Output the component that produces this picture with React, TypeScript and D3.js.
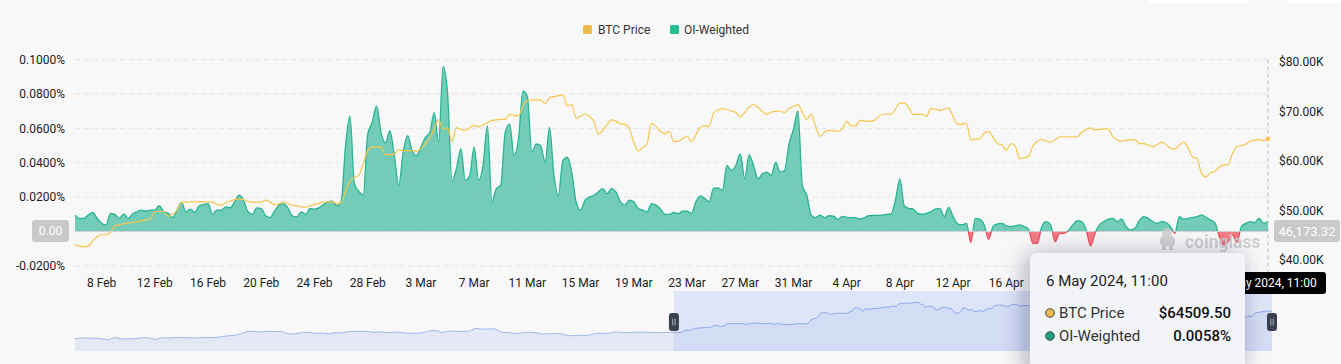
import * as d3 from 'd3';

// OI-weighted funding rate vs BTC price, 8h samples, 6 Feb 19:00 -> 6 May 11:00 2024

const W = 1341;
const H = 364;
const M = { left: 75, right: 1268, top: 59.5, bottom: 266 };
const SLIDER = { left: 75, right: 1272, top: 291, bottom: 351 };

// 0 % tick label sits under the axis-pointer badge, so it is not listed
const LEFT_TICKS = [0.1, 0.08, 0.06, 0.04, 0.02, -0.02];
const GRID_TICKS = [0.1, 0.08, 0.06, 0.04, 0.02, 0, -0.02];
const RIGHT_TICKS = [80000, 70000, 60000, 50000, 40000];
// labels after 16 Apr are hidden behind the tooltip
const X_TICKS = [
  '8 Feb', '12 Feb', '16 Feb', '20 Feb', '24 Feb', '28 Feb', '3 Mar', '7 Mar', '11 Mar', '15 Mar', '19 Mar',
  '23 Mar', '27 Mar', '31 Mar', '4 Apr', '8 Apr', '12 Apr', '16 Apr',
];
const FIRST_TICK = 6;   // sample index of "8 Feb"
const TICK_STEP = 12;   // 4 days of 8h samples

const START = new Date(2024, 1, 6, 19);
const SLIDER_START = new Date(2023, 10, 9);

// funding rate, %
const OI_WEIGHTED = [
  0.0096, 0.0077, 0.0077, 0.0096, 0.0111, 0.0077, 0.0048, 0.0038, 0.0106, 0.0100,
  0.0077, 0.0102, 0.0077, 0.0102, 0.0115, 0.0125, 0.0119, 0.0125, 0.0125, 0.0150,
  0.0115, 0.0106, 0.0081, 0.0125, 0.0169, 0.0115, 0.0131, 0.0111, 0.0150, 0.0157,
  0.0163, 0.0100, 0.0125, 0.0125, 0.0144, 0.0138, 0.0173, 0.0211, 0.0182, 0.0115,
  0.0100, 0.0138, 0.0134, 0.0092, 0.0081, 0.0119, 0.0154, 0.0161, 0.0138, 0.0092,
  0.0086, 0.0115, 0.0100, 0.0134, 0.0131, 0.0138, 0.0157, 0.0173, 0.0177, 0.0150,
  0.0173, 0.0499, 0.0672, 0.0278, 0.0234, 0.0211, 0.0566, 0.0634, 0.0730, 0.0576,
  0.0515, 0.0586, 0.0442, 0.0269, 0.0461, 0.0557, 0.0470, 0.0442, 0.0490, 0.0547,
  0.0576, 0.0691, 0.0518, 0.0960, 0.0806, 0.0298, 0.0365, 0.0480, 0.0298, 0.0326,
  0.0490, 0.0298, 0.0384, 0.0614, 0.0173, 0.0250, 0.0269, 0.0576, 0.0624, 0.0442,
  0.0538, 0.0816, 0.0787, 0.0461, 0.0509, 0.0499, 0.0403, 0.0605, 0.0326, 0.0211,
  0.0413, 0.0432, 0.0346, 0.0173, 0.0125, 0.0182, 0.0202, 0.0211, 0.0230, 0.0250,
  0.0221, 0.0250, 0.0230, 0.0173, 0.0154, 0.0182, 0.0173, 0.0134, 0.0125, 0.0115,
  0.0163, 0.0154, 0.0131, 0.0100, 0.0100, 0.0111, 0.0104, 0.0119, 0.0119, 0.0106,
  0.0173, 0.0207, 0.0192, 0.0173, 0.0253, 0.0253, 0.0240, 0.0384, 0.0355, 0.0384,
  0.0451, 0.0307, 0.0445, 0.0384, 0.0307, 0.0336, 0.0346, 0.0326, 0.0403, 0.0346,
  0.0355, 0.0509, 0.0595, 0.0701, 0.0269, 0.0211, 0.0096, 0.0081, 0.0096, 0.0081,
  0.0092, 0.0090, 0.0071, 0.0088, 0.0084, 0.0081, 0.0081, 0.0073, 0.0081, 0.0092,
  0.0094, 0.0094, 0.0096, 0.0100, 0.0102, 0.0184, 0.0306, 0.0149, 0.0135, 0.0130,
  0.0106, 0.0101, 0.0106, 0.0116, 0.0130, 0.0135, 0.0087, 0.0141, 0.0087, 0.0045,
  0.0039, 0.0048, -0.0064, 0.0077, 0.0072, 0.0039, -0.0045, 0.0029, 0.0045, 0.0048,
  0.0033, 0.0029, 0.0033, 0.0039, 0.0029, 0.0014, -0.0068, -0.0068, 0.0029, 0.0058,
  0.0039, -0.0058, -0.0010, -0.0010, 0.0006, 0.0039, 0.0064, 0.0058, 0.0010, -0.0083,
  -0.0010, 0.0039, 0.0058, 0.0072, 0.0077, 0.0058, 0.0072, 0.0029, 0.0010, 0.0019,
  0.0064, 0.0087, 0.0077, 0.0058, 0.0048, 0.0058, 0.0052, 0.0029, -0.0010, 0.0087,
  0.0072, 0.0077, 0.0083, 0.0087, 0.0097, 0.0083, 0.0068, 0.0052, -0.0025, -0.0077,
  -0.0058, -0.0019, -0.0064, 0.0029, 0.0048, 0.0058, 0.0052, 0.0077, 0.0048, 0.0058,
];

// BTC price, USD, same samples
const BTC_PRICE = [
  43000, 42800, 42700, 42800, 43900, 44700, 45100, 45100, 45600, 46900,
  47100, 47300, 47450, 47600, 47750, 47900, 48100, 48250, 49800, 49800,
  49800, 48800, 49300, 49900, 51600, 51700, 51750, 51750, 51800, 51750,
  51750, 51700, 51300, 51050, 51600, 51900, 52200, 52350, 52200, 51850,
  51700, 51700, 51700, 52100, 51700, 51150, 51400, 51700, 51400, 51050,
  50950, 50750, 50700, 50950, 51200, 51450, 51700, 51750, 51750, 51400,
  51500, 53900, 56000, 56700, 57100, 59500, 62100, 62800, 62800, 62800,
  61300, 61300, 61400, 62300, 62100, 62100, 62100, 62000, 62500, 63500,
  64600, 66500, 68300, 66400, 66700, 64000, 66700, 66400, 66200, 66700,
  67200, 66900, 67300, 67700, 68200, 68300, 68400, 68400, 69400, 69200,
  69100, 71200, 72200, 72300, 72400, 72300, 71600, 72800, 73000, 73200,
  73300, 71100, 71400, 68600, 69000, 69550, 69000, 68000, 65400, 66200,
  67400, 68300, 68000, 67500, 67400, 66500, 63800, 62000, 62700, 63600,
  67600, 67000, 66000, 65500, 66000, 63900, 64000, 64500, 65000, 63900,
  65300, 66800, 67100, 67000, 69700, 70300, 70600, 70400, 70100, 69800,
  68900, 69800, 70900, 71400, 70800, 70000, 69400, 69900, 70000, 70100,
  69800, 70600, 71000, 71400, 69900, 68400, 69500, 67000, 65000, 65800,
  66200, 66100, 66000, 66500, 68000, 67100, 67100, 68200, 68100, 68000,
  68100, 68800, 69400, 69500, 69450, 70500, 71700, 71700, 70800, 69400,
  69400, 69400, 69000, 70600, 70500, 70200, 70500, 70700, 69000, 67400,
  67400, 67600, 64300, 64400, 64500, 65600, 66000, 64800, 63500, 63300,
  62100, 63500, 63000, 60500, 60600, 61000, 63000, 64000, 64300, 64000,
  63800, 64300, 64900, 64900, 64900, 64850, 64900, 65800, 66300, 66700,
  66250, 66400, 66450, 66500, 64900, 64300, 64000, 64200, 64300, 64300,
  63500, 63500, 63200, 62900, 63300, 63800, 63300, 62600, 62400, 63200,
  63800, 62600, 60800, 60500, 57500, 56800, 57600, 57900, 58800, 59200,
  59300, 61500, 62900, 63100, 63400, 64000, 64200, 64350, 64100, 64509.5,
];

// daily BTC price before the visible window (zoom slider only), 9 Nov 2023 ->
const BTC_PRICE_EARLIER = [
  36700, 37300, 37100, 37100, 36500, 35500, 37900, 36200, 36600, 36600, 37400,
  37500, 35800, 37400, 37300, 37700, 37800, 37500, 37200, 37800, 37900, 37700,
  38700, 39500, 39900, 42000, 44100, 43800, 43300, 44200, 43700, 43800, 41200,
  41500, 42900, 43000, 41900, 42300, 41400, 42700, 42300, 43700, 43900, 44000,
  43700, 43000, 43600, 42500, 43400, 42600, 42100, 42100, 42300,
  44200, 45000, 42800, 44200, 44200, 43900, 43900, 47000, 46100, 46600, 46300,
  42800, 42800, 41700, 42500, 43100, 42700, 41300, 41600, 41700, 41600, 39500,
  39800, 40100, 39900, 41800, 42100, 42000, 43300, 42900, 42600,
  43100, 43200, 43000, 42600, 42700, 43000,
];

const HOVER = {
  title: '6 May 2024, 11:00',
  price: '$64509.50',
  rate: '0.0058%',
  leftAxis: '0.00',
  rightAxis: '46,173.32',
};

const BG = '#f8f8f8';
const GREEN_FILL = '#72ccb8';
const GREEN_LINE = '#27b493';
const RED_FILL = '#f47b86';
const RED_LINE = '#ee4c5b';
const BTC_COLOR = '#f7c54e';
const BTC_LEGEND = '#ecbb4a';
const OI_LEGEND = '#22bf8e';
const FONT = "Roboto, 'Noto Sans', Arial, sans-serif";

export default function App() {
  const n = OI_WEIGHTED.length;
  const x = d3.scaleLinear().domain([0, n - 1]).range([M.left, M.right]);
  const yL = d3.scaleLinear().domain([-0.02, 0.1]).range([M.bottom, M.top]);
  const yR = d3.scaleLinear().domain([40000, 80000]).range([260, 62]);
  const y0 = yL(0);

  const area = d3.area<number>().x((_, i) => x(i)).y0(y0).y1((d) => yL(d)).curve(d3.curveMonotoneX);
  const rateLine = d3.line<number>().x((_, i) => x(i)).y((d) => yL(d)).curve(d3.curveMonotoneX);
  const priceLine = d3.line<number>().x((_, i) => x(i)).y((d) => yR(d)).curve(d3.curveMonotoneX);

  // ── zoom slider shadow (echarts pads the data extent by 30% each side) ──
  const mainDates = BTC_PRICE.map((_, i) => d3.timeHour.offset(START, 8 * i));
  const earlyDates = BTC_PRICE_EARLIER.map((_, i) => d3.timeDay.offset(SLIDER_START, i));
  const allDates = [...earlyDates, ...mainDates];
  const allPrices = [...BTC_PRICE_EARLIER, ...BTC_PRICE];
  const sx = d3.scaleTime().domain([SLIDER_START, mainDates[n - 1]]).range([SLIDER.left, SLIDER.right]);
  const [pMin, pMax] = d3.extent(allPrices) as [number, number];
  const pad = (pMax - pMin) * 0.3;
  const sy = d3.scaleLinear().domain([pMin - pad, pMax + pad]).range([SLIDER.bottom, SLIDER.top]);
  const shadowArea = d3.area<number>().x((_, i) => sx(allDates[i])).y0(SLIDER.bottom).y1((d) => sy(d));
  const shadowLine = d3.line<number>().x((_, i) => sx(allDates[i])).y((d) => sy(d));
  const selX0 = sx(START);

  const hoverX = x(n - 1);
  const tip = { x: 1030, y: 253, w: 215, h: 125 };

  return (
    <div style={{ position: 'absolute', left: 0, top: 0, width: W, height: H, overflow: 'hidden' }}>
      <svg width={W} height={H} style={{ display: 'block', fontFamily: FONT }}>
        <defs>
          <clipPath id="pos"><rect x={0} y={0} width={W} height={y0} /></clipPath>
          <clipPath id="neg"><rect x={0} y={y0} width={W} height={H - y0} /></clipPath>
          <clipPath id="sel"><rect x={selX0} y={SLIDER.top} width={SLIDER.right - selX0} height={SLIDER.bottom - SLIDER.top} /></clipPath>
          <filter id="tipShadow" x="-40%" y="-40%" width="180%" height="180%">
            <feDropShadow dx={-4} dy={2} stdDeviation={12} floodColor="#1d2340" floodOpacity={0.35} />
          </filter>
        </defs>

        <rect width={W} height={H} fill={BG} />
        <rect x={1148} y={0} width={100} height={3} fill="#ffffff" />
        <rect x={1288} y={0} width={53} height={3} fill="#ffffff" />

        {/* Legend */}
        <rect x={583} y={25} width={9} height={9} rx={1.5} fill={BTC_LEGEND} />
        <text x={598} y={34} fontSize={12} fill="#333">BTC Price</text>
        <rect x={670} y={25} width={9} height={9} rx={1.5} fill={OI_LEGEND} />
        <text x={684} y={34} fontSize={12} fill="#333">OI-Weighted</text>

        {/* Grid + left axis */}
        {GRID_TICKS.map((t) => (
          <line key={t} x1={M.left} x2={M.right} y1={yL(t)} y2={yL(t)} stroke="#e6e6e6" strokeDasharray="5 4" />
        ))}
        {LEFT_TICKS.map((t) => (
          <text key={t} x={65} y={yL(t)} dy="0.35em" textAnchor="end" fontSize={12} fill="#1c1c1c">
            {`${t.toFixed(4)}%`}
          </text>
        ))}

        {/* Right axis */}
        {RIGHT_TICKS.map((t) => (
          <text key={t} x={1279} y={yR(t)} dy="0.35em" fontSize={12} fill="#1c1c1c">
            {`$${(t / 1000).toFixed(2)}K`}
          </text>
        ))}

        {/* Funding area, green above zero and red below */}
        <g clipPath="url(#pos)">
          <path d={area(OI_WEIGHTED) ?? ''} fill={GREEN_FILL} />
          <path d={rateLine(OI_WEIGHTED) ?? ''} fill="none" stroke={GREEN_LINE} strokeWidth={1.3} />
        </g>
        <g clipPath="url(#neg)">
          <path d={area(OI_WEIGHTED) ?? ''} fill={RED_FILL} />
          <path d={rateLine(OI_WEIGHTED) ?? ''} fill="none" stroke={RED_LINE} strokeWidth={1.3} />
        </g>

        {/* BTC price */}
        <path d={priceLine(BTC_PRICE) ?? ''} fill="none" stroke={BTC_COLOR} strokeWidth={1.2} />

        {/* Watermark */}
        <g fill="#cbcbcb" opacity={0.85}>
          <circle cx={1167} cy={233} r={5} />
          <rect x={1160} y={236} width={15} height={10} rx={4} />
          <rect x={1162} y={245} width={4} height={5} />
          <rect x={1169} y={245} width={4} height={5} />
          <text x={1185} y={248} fontSize={17.5} fontWeight={700}>coinglass</text>
        </g>

        {/* Axis pointer */}
        <line x1={M.left} x2={M.right} y1={y0} y2={y0} stroke="#d6d6d6" strokeDasharray="4 3" />
        <line x1={hoverX} x2={hoverX} y1={M.top} y2={272} stroke="#b8b8b8" strokeDasharray="4 3" />
        <circle cx={hoverX} cy={yR(BTC_PRICE[n - 1])} r={2.2} fill={BTC_COLOR} />

        <rect x={32} y={220} width={37} height={22} rx={3} fill="#c9c9c9" />
        <text x={50.5} y={231} dy="0.35em" textAnchor="middle" fontSize={12} fill="#fff">{HOVER.leftAxis}</text>
        <rect x={1274} y={220} width={66} height={22} rx={3} fill="#c9c9c9" />
        <text x={1307} y={231} dy="0.35em" textAnchor="middle" fontSize={13} fill="#fff">{HOVER.rightAxis}</text>

        {/* X axis labels */}
        {X_TICKS.map((t, j) => (
          <text key={t} x={x(FIRST_TICK + j * TICK_STEP)} y={283} dy="0.35em" textAnchor="middle" fontSize={12} fill="#1c1c1c">
            {t}
          </text>
        ))}

        {/* Zoom slider */}
        <path d={shadowArea(allPrices) ?? ''} fill="#e3e8f4" />
        <path d={shadowLine(allPrices) ?? ''} fill="none" stroke="#8ea8e8" strokeWidth={0.8} />
        <rect x={selX0} y={SLIDER.top} width={SLIDER.right - selX0} height={SLIDER.bottom - SLIDER.top} fill="#dfe5f8" />
        <g clipPath="url(#sel)">
          <path d={shadowArea(allPrices) ?? ''} fill="#d3dcf5" />
          <path d={shadowLine(allPrices) ?? ''} fill="none" stroke="#84a1ec" strokeWidth={0.9} />
        </g>
        {[selX0, SLIDER.right].map((hx) => (
          <g key={hx}>
            <rect x={hx - 5} y={313} width={10} height={18} rx={3} fill="#3b4050" />
            <line x1={hx - 1.2} x2={hx - 1.2} y1={318.5} y2={325.5} stroke="#c6cad6" strokeWidth={0.8} />
            <line x1={hx + 1.2} x2={hx + 1.2} y1={318.5} y2={325.5} stroke="#c6cad6" strokeWidth={0.8} />
          </g>
        ))}

        {/* x pointer label */}
        <rect x={hoverX - 58} y={272} width={116} height={22} rx={3} fill="#000" />
        <text x={hoverX} y={283} dy="0.35em" textAnchor="middle" fontSize={12} fill="#fff">{HOVER.title}</text>

        {/* Tooltip */}
        <rect x={tip.x} y={tip.y} width={tip.w} height={tip.h} rx={8} fill="#f3f4f8" filter="url(#tipShadow)" />
        <text x={1046} y={281} dy="0.35em" fontSize={15} fill="#222">{HOVER.title}</text>
        <circle cx={1050} cy={313} r={4.3} fill={BTC_LEGEND} stroke="#444" strokeWidth={1} />
        <text x={1059} y={313} dy="0.35em" fontSize={15} fill="#333">BTC Price</text>
        <text x={1231} y={313} dy="0.35em" textAnchor="end" fontSize={15} fontWeight={500} fill="#111">{HOVER.price}</text>
        <circle cx={1050} cy={336} r={4.3} fill="#1d9e82" stroke="#444" strokeWidth={1} />
        <text x={1059} y={336} dy="0.35em" fontSize={15} fill="#333">OI-Weighted</text>
        <text x={1231} y={336} dy="0.35em" textAnchor="end" fontSize={15} fontWeight={500} fill="#111">{HOVER.rate}</text>
      </svg>
    </div>
  );
}
